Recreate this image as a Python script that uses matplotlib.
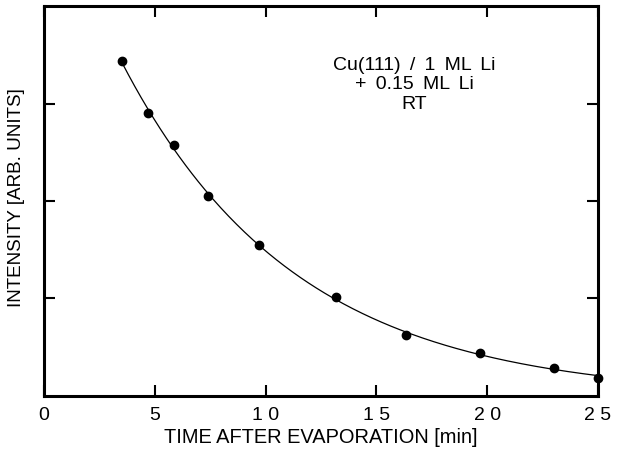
import numpy as np
import matplotlib
matplotlib.use("Agg")
import matplotlib.pyplot as plt

plt.rcParams['font.family'] = ['Liberation Sans', 'DejaVu Sans']

# measured points (time in min, intensity in arb. units)
time_min = [3.52, 4.70, 5.86, 7.38, 9.70, 13.20, 16.32, 19.68, 23.03, 25.0]
intensity = [3.44, 2.90, 2.57, 2.05, 1.55, 1.02, 0.625, 0.44, 0.29, 0.185]

x_ticks = [0, 5, 10, 15, 20, 25]
y_ticks = [1, 2, 3]
note_lines = ["Cu(111) / 1 ML Li", "+ 0.15 ML Li", "RT"]

# exponential fit  I = A*exp(-t/tau) + C  (grid over tau, linear lsq for A, C)
t = np.array(time_min)
I = np.array(intensity)
best = None
for tau in np.linspace(2, 30, 2801):
    M = np.column_stack([np.exp(-t / tau), np.ones_like(t)])
    coef, res, _, _ = np.linalg.lstsq(M, I, rcond=None)
    err = np.sum((M @ coef - I) ** 2)
    if best is None or err < best[0]:
        best = (err, tau, coef)
_, tau, (A, C) = best
t_fit = np.linspace(min(time_min), max(time_min), 300)
I_fit = A * np.exp(-t_fit / tau) + C

fig = plt.figure(figsize=(6.23, 4.55), dpi=100)
ax = fig.add_axes([0.0706, 0.1297, 0.8892, 0.8571])

ax.plot(t_fit, I_fit, color='black', lw=0.9)
ax.plot(time_min, intensity, 'o', color='black', ms=6, clip_on=False, zorder=3)

ax.set_xlim(0, 25)
ax.set_ylim(0, 4)
ax.set_xticks(x_ticks)
ax.set_xticklabels([" ".join(str(v)) for v in x_ticks])
ax.set_yticks(y_ticks)
ax.set_yticklabels([])
ax.tick_params(axis='both', direction='in', length=8, width=1.5, labelsize=14, pad=8)
ax.tick_params(axis='x', top=True)
ax.tick_params(axis='y', right=True)

for s in ax.spines.values():
    s.set_linewidth(2.2)

ax.set_xlabel("TIME AFTER EVAPORATION [min]", fontsize=14.4, labelpad=3)
ax.set_ylabel("INTENSITY [ARB. UNITS]", fontsize=13.6)
ax.yaxis.set_label_coords(-0.034, 0.51)

# spaces in the note are set a little wider, as in the original
note = "\n".join(line.replace(" ", " \u2009") for line in note_lines)
ax.text(16.72, 3.19, note, ha='center', va='center', fontsize=14, linespacing=1.2)

fig.savefig("out.png", dpi=100)
